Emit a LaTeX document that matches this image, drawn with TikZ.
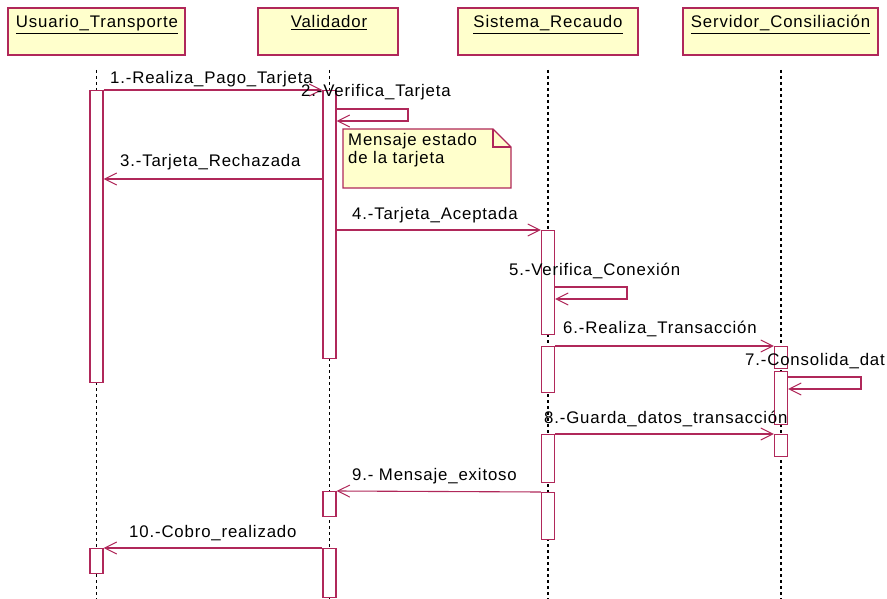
\documentclass[tikz,border=0pt]{standalone}
\usepackage{fontspec}
\setmainfont[LetterSpace=5]{Liberation Sans}
\usetikzlibrary{arrows.meta}

\definecolor{umlline}{RGB}{176,40,90}
\definecolor{umlfill}{RGB}{255,255,204}

\tikzset{
  hdr/.style={draw=umlline, fill=umlfill, line width=1.6pt, inner sep=0pt},
  act/.style={draw=umlline, fill=white, line width=1.3pt, inner sep=0pt, minimum width=13pt},
  life/.style={black, line width=1.2pt, dash pattern=on 3pt off 3pt},
  msg/.style={umlline, line width=1.1pt, -{Straight Barb[length=12pt, width=12pt, line width=1pt]}},
  lbl/.style={anchor=base west, inner sep=0pt, font=\fontsize{16.8}{19}\selectfont},
  htxt/.style={anchor=base, inner sep=0pt, font=\fontsize{16.8}{19}\selectfont},
  notebox/.style={draw=umlline, fill=umlfill, line width=1.3pt}
}

% activation bar: name, centre x, top y, bottom y
\newcommand{\actbar}[4]{%
  \node[act, minimum height={#4-#3}, anchor=north] (#1) at (#2,#3) {};}

\begin{document}
\begin{tikzpicture}[x=1pt, y=-1pt]
\useasboundingbox (0,0) rectangle (887,599);
\fill[white] (0,0) rectangle (887,599);

% lifelines
\coordinate (uL) at (96.5,70);  \coordinate (uE) at (96.5,599);
\coordinate (vL) at (329.5,70); \coordinate (vE) at (329.5,599);
\coordinate (sL) at (548,70);   \coordinate (sE) at (548,599);
\coordinate (cL) at (781,70);   \coordinate (cE) at (781,599);
\draw[life] (uL) -- (uE);
\draw[life] (vL) -- (vE);
\draw[life] (sL) -- (sE);
\draw[life] (cL) -- (cE);

% object headers
\node[hdr, minimum width=177pt, minimum height=47pt] (u) at (96.5,31.5) {};
\node[hdr, minimum width=140pt, minimum height=47pt] (v) at (328,31.5) {};
\node[hdr, minimum width=180pt, minimum height=47pt] (s) at (548,31.5) {};
\node[hdr, minimum width=195pt, minimum height=47pt] (c) at (780.5,31.5) {};
\node[htxt] (ut) at (97,28) {\underline{Usuario\_Transporte}};
\node[htxt] (vt) at (329,28) {\underline{Validador}};
\node[htxt] (st) at (548,28) {\underline{Sistema\_Recaudo}};
\node[htxt] (ct) at (780.5,28) {\underline{Servidor\_Consiliación}};

% activation bars
\actbar{ua1}{96.5}{90}{382}
\actbar{ua2}{96.5}{548}{573}
\actbar{va1}{329.5}{90}{358}
\actbar{va2}{329.5}{491}{516}
\actbar{va3}{329.5}{548}{597}
\actbar{sa1}{548}{230}{334}
\actbar{sa2}{548}{346}{392}
\actbar{sa3}{548}{434}{482}
\actbar{sa4}{548}{492}{539}
\actbar{ca1}{781}{346}{368}
\actbar{ca2}{781}{371}{424}
\actbar{ca3}{781}{434}{456}

% note with folded corner
\draw[notebox] (343,129) -- (493,129) -- (511,147) -- (511,188) -- (343,188) -- cycle;
\draw[umlline, line width=1.3pt] (493,129) -- (493,147) -- (511,147);
\node[lbl] (n1) at (348,146) {Mensaje estado};
\node[lbl] (n2) at (348,164) {de la tarjeta};

% message positions
\coordinate (m3) at (0,179);
\coordinate (m2a) at (408,109);
\coordinate (m2b) at (408,121);
\coordinate (m5a) at (627,287);
\coordinate (m5b) at (627,299);
\coordinate (m7a) at (861,377);
\coordinate (m7b) at (861,389);

% 1
\draw[msg] (ua1.north east) -- (va1.north west);
\node[lbl] (l1) at (110,84) {1.-Realiza\_Pago\_Tarjeta};
% 2
\draw[msg] (va1.east |- m2a) -- (m2a) -- (m2b) -- (va1.east |- m2b);
\node[lbl] (l2) at (301,97) {2.-Verifica\_Tarjeta};
% 3
\draw[msg] (va1.west |- m3) -- (ua1.east |- m3);
\node[lbl] (l3) at (120,167) {3.-Tarjeta\_Rechazada};
% 4
\draw[msg] (va1.east |- sa1.north) -- (sa1.north west);
\node[lbl] (l4) at (352,219) {4.-Tarjeta\_Aceptada};
% 5
\draw[msg] (sa1.east |- m5a) -- (m5a) -- (m5b) -- (sa1.east |- m5b);
\node[lbl] (l5) at (509,275) {5.-Verifica\_Conexión};
% 6
\draw[msg] (sa2.north east) -- (ca1.north west);
\node[lbl] (l6) at (563,333) {6.-Realiza\_Transacción};
% 7
\draw[msg] (ca2.east |- m7a) -- (m7a) -- (m7b) -- (ca2.east |- m7b);
\node[lbl] (l7) at (745,365) {7.-Consolida\_dat};
% 8
\draw[msg] (sa3.north east) -- (ca3.north west);
\node[lbl] (l8) at (544,423) {8.-Guarda\_datos\_transacción};
% 9
\draw[msg] (sa4.north west) -- (va2.north east);
\node[lbl] (l9) at (352,480) {9.- Mensaje\_exitoso};
% 10
\draw[msg] (va3.north west) -- (ua2.north east);
\node[lbl] (l10) at (129,537) {10.-Cobro\_realizado};
\end{tikzpicture}
\end{document}
